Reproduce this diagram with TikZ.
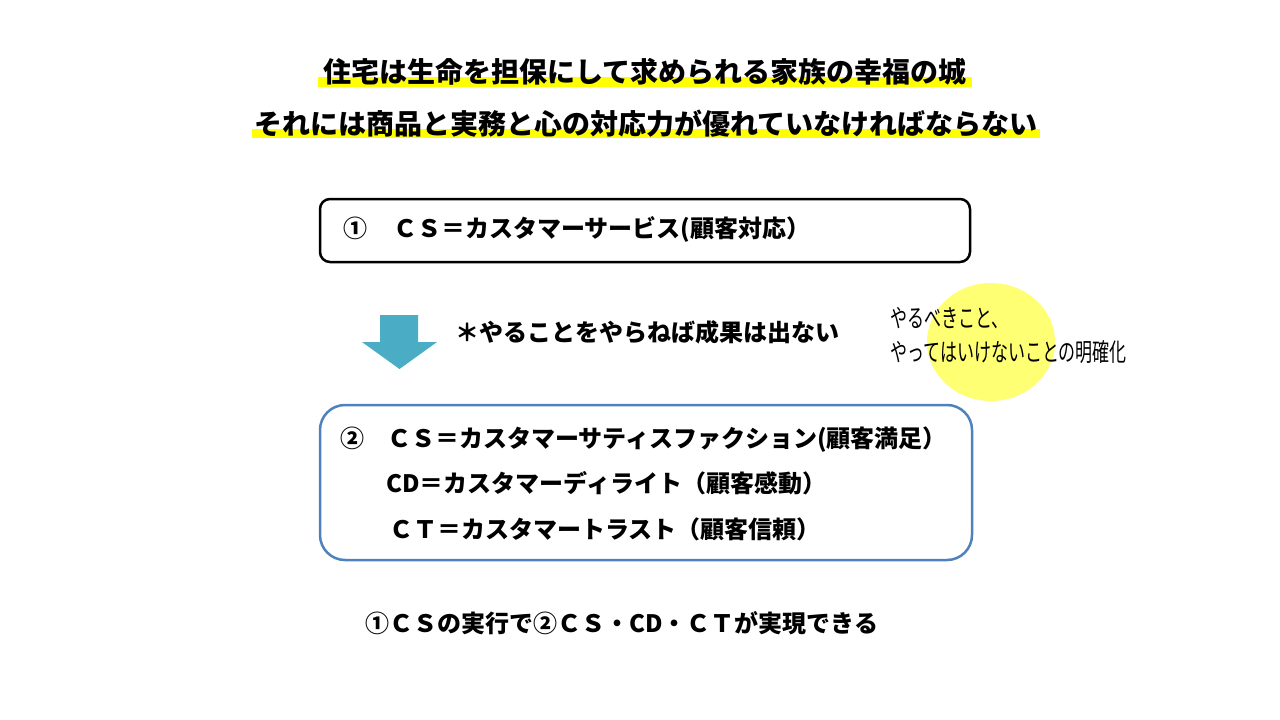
\documentclass[tikz,border=0pt]{standalone}
\usepackage{fontspec}
\setmainfont{Noto Sans CJK JP}
\usetikzlibrary{positioning}
\definecolor{markyellow}{RGB}{255,255,0}
\definecolor{pale}{RGB}{255,255,115}
\definecolor{arrowblue}{RGB}{75,172,198}
\definecolor{framblue}{RGB}{79,129,189}
\newcommand{\narrowtxt}[1]{\scalebox{0.68}[1]{#1}}

\begin{document}
\begin{tikzpicture}[x=1pt, y=-1pt,
    title/.style={anchor=base, inner sep=0pt, font=\fontsize{28pt}{32pt}\selectfont\bfseries},
    lbl/.style={anchor=base west, inner sep=0pt, font=\fontsize{24pt}{28pt}\selectfont\bfseries},
    memo/.style={anchor=base west, inner sep=0pt, align=left, font=\fontsize{25pt}{34pt}\selectfont},
    frame/.style={draw, line width=2.5pt, inner sep=0pt}]
\useasboundingbox (0,0) rectangle (1280,720);

%% TOP: two highlighted headlines
\fill[markyellow] (318,77) rectangle (972,87);
\fill[markyellow] (252,129) rectangle (1040,138);
\node[title] (head1) at (645,82) {住宅は生命を担保にして求められる家族の幸福の城};
\node[title] (head2) at (646,134) {それには商品と実務と心の対応力が優れていなければならない};

%% box 1
\node[frame, rounded corners=10pt, minimum width=650pt, minimum height=63pt] (svc) at (645,230.5) {};
\node[lbl] (svcnum) at (343,237) {①};
\node[lbl] (svctxt) at (393,237) {ＣＳ＝カスタマーサービス(顧客対応）};

%% arrow and note
\fill[arrowblue] (380,315) -- (418,315) -- (418,342) -- (437,342)
  -- (399.5,369) -- (362,342) -- (380,342) -- cycle;
\node[lbl] (must) at (455,341) {＊やることをやらねば成果は出ない};

%% yellow spot with memo
\fill[pale] (991,342) ellipse [x radius=64pt, y radius=59pt];
\node[memo] (memo) at (890,361)
  {\narrowtxt{やるべきこと、}\\\narrowtxt{やってはいけないことの明確化}};

%% box 2
\node[frame, draw=framblue, rounded corners=25pt, minimum width=652pt, minimum height=155pt] (sat) at (646,482.5) {};
\node[lbl] (satnum) at (340,447) {②};
\node[lbl] (sattxt) at (387,447) {ＣＳ＝カスタマーサティスファクション(顧客満足）};
\node[lbl] (deltxt) at (386,492) {CD＝カスタマーディライト（顧客感動）};
\node[lbl] (trutxt) at (389,538) {ＣＴ＝カスタマートラスト（顧客信頼）};

%% conclusion
\node[lbl] (concl) at (365,632) {①ＣＳの実行で②ＣＳ・CD・ＣＴが実現できる};
\end{tikzpicture}
\end{document}
